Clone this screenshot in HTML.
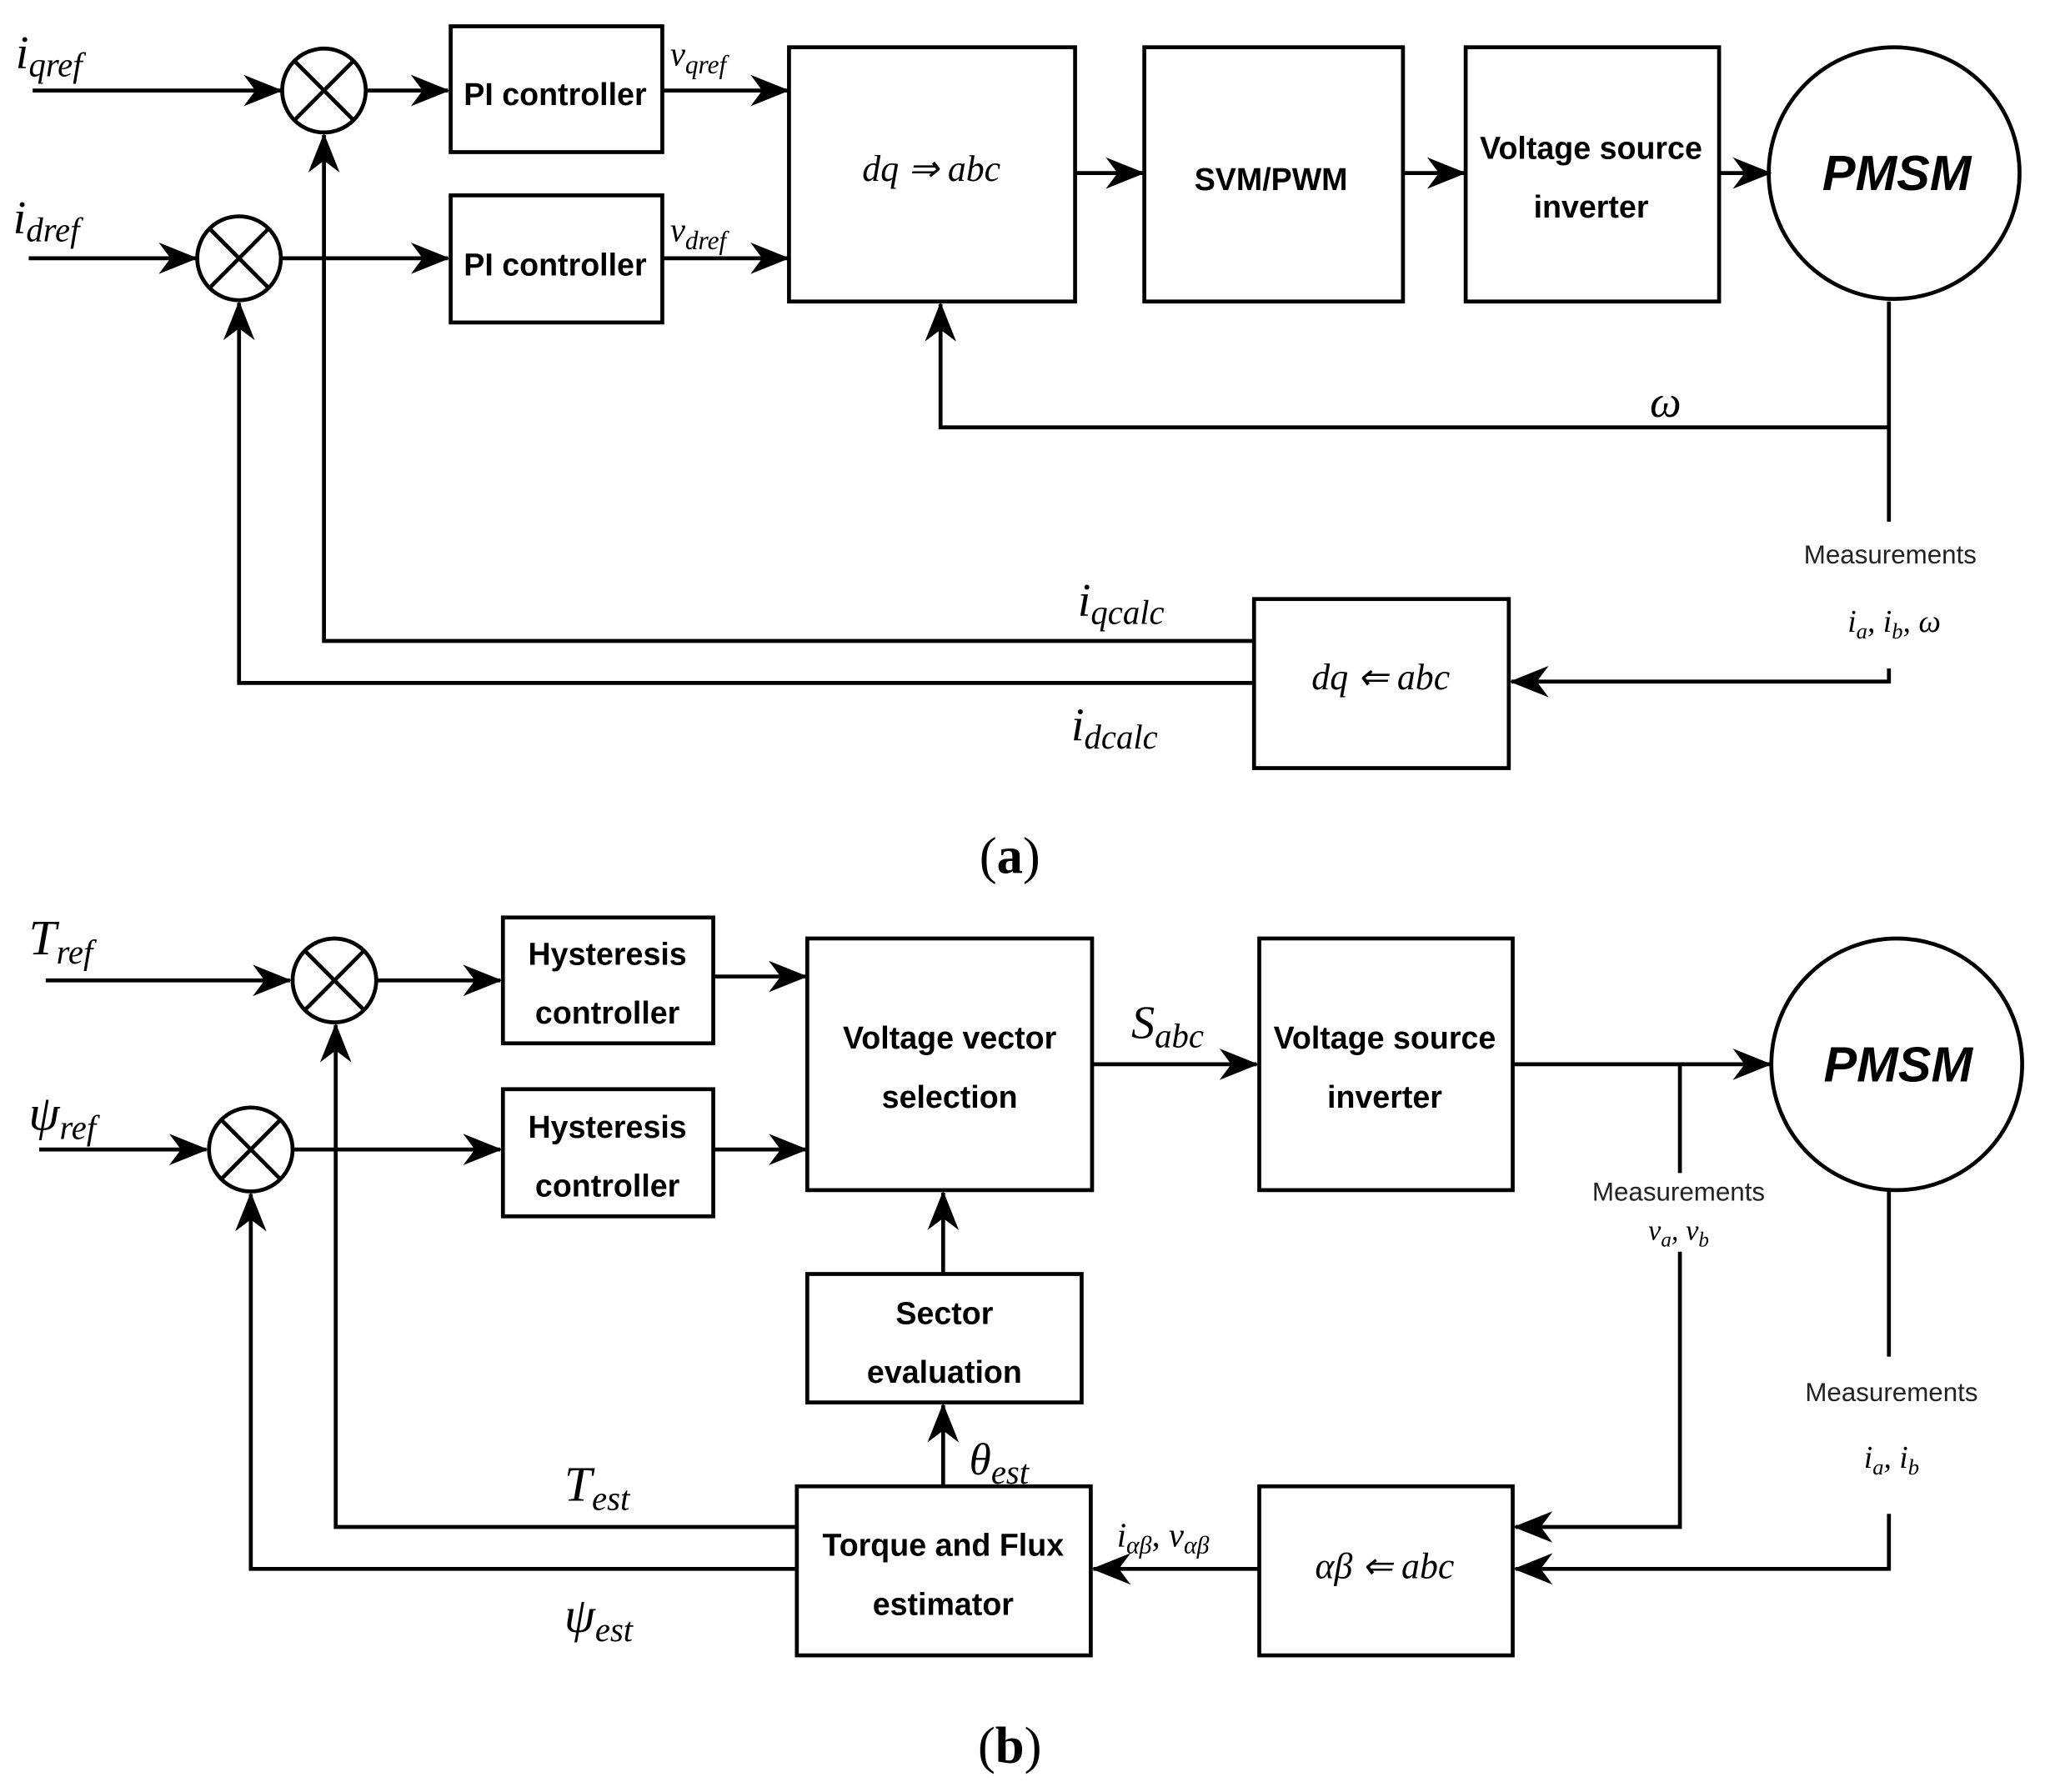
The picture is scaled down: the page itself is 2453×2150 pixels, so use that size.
<!DOCTYPE html>
<html><head><meta charset="utf-8"><style>body{margin:0;background:#fff}</style></head><body>
<svg width="2453" height="2145" viewBox="0 0 1560 1364" xmlns="http://www.w3.org/2000/svg">
<defs>
<marker id="m" viewBox="0 0 20 16" markerWidth="30" markerHeight="24" refX="19" refY="8" orient="auto" markerUnits="userSpaceOnUse"><path d="M0,0 L20,8 L0,16 L6,8 Z" fill="#000"/></marker></defs>
<g transform="scale(0.9965,1)">
<g stroke="#000" stroke-width="3" fill="none">
<!-- (a) -->
<line x1="25" y1="69" x2="215" y2="69" marker-end="url(#m)"/>
<circle cx="248" cy="69" r="32"/><path d="M225,46 L271,92 M271,46 L225,92"/>
<line x1="280" y1="69" x2="343" y2="69" marker-end="url(#m)"/>
<rect x="345" y="20" width="162" height="96"/>
<line x1="507" y1="69" x2="603" y2="69" marker-end="url(#m)"/>
<rect x="604" y="36" width="219" height="194"/>
<line x1="823" y1="132" x2="875" y2="132" marker-end="url(#m)"/>
<rect x="876" y="36" width="198" height="194"/>
<line x1="1074" y1="132" x2="1121" y2="132" marker-end="url(#m)"/>
<rect x="1122" y="36" width="194" height="194"/>
<line x1="1316" y1="132" x2="1355" y2="132" marker-end="url(#m)"/>
<circle cx="1450" cy="132" r="96"/>
<line x1="22" y1="197" x2="150" y2="197" marker-end="url(#m)"/>
<circle cx="183" cy="197" r="32"/><path d="M160,174 L206,220 M206,174 L160,220"/>
<line x1="215" y1="197" x2="343" y2="197" marker-end="url(#m)"/>
<rect x="345" y="149" width="162" height="97"/>
<line x1="507" y1="197" x2="603" y2="197" marker-end="url(#m)"/>
<polyline points="1446,230 1446,398"/>
<polyline points="1446,326 720,326 720,232" marker-end="url(#m)"/>
<polyline points="1446,510 1446,520 1157,520" marker-end="url(#m)"/>
<rect x="960" y="457" width="195" height="129"/>
<polyline points="960,489 248,489 248,103" marker-end="url(#m)"/>
<polyline points="960,521 183,521 183,231" marker-end="url(#m)"/>
<!-- (b) -->
<line x1="35" y1="748" x2="222" y2="748" marker-end="url(#m)"/>
<circle cx="256" cy="748" r="32"/><path d="M233,725 L279,771 M279,725 L233,771"/>
<line x1="288" y1="748" x2="383" y2="748" marker-end="url(#m)"/>
<rect x="385" y="700" width="161" height="96"/>
<line x1="30" y1="877" x2="158" y2="877" marker-end="url(#m)"/>
<circle cx="192" cy="877" r="32"/><path d="M169,854 L215,900 M215,854 L169,900"/>
<line x1="224" y1="877" x2="383" y2="877" marker-end="url(#m)"/>
<rect x="385" y="831" width="161" height="97"/>
<line x1="546" y1="745" x2="617" y2="745" marker-end="url(#m)"/>
<line x1="546" y1="877" x2="617" y2="877" marker-end="url(#m)"/>
<rect x="618" y="716" width="218" height="192"/>
<line x1="836" y1="812" x2="962" y2="812" marker-end="url(#m)"/>
<rect x="964" y="716" width="194" height="192"/>
<line x1="1158" y1="812" x2="1355" y2="812" marker-end="url(#m)"/>
<circle cx="1452" cy="812" r="96"/>
<line x1="1286" y1="812" x2="1286" y2="895"/>
<polyline points="1286,955 1286,1165 1160,1165" marker-end="url(#m)"/>
<line x1="1446" y1="908" x2="1446" y2="1035"/>
<polyline points="1446,1155 1446,1197 1160,1197" marker-end="url(#m)"/>
<rect x="964" y="1134" width="194" height="129"/>
<line x1="964" y1="1197" x2="837" y2="1197" marker-end="url(#m)"/>
<rect x="610" y="1134" width="225" height="129"/>
<line x1="722" y1="1134" x2="722" y2="1072" marker-end="url(#m)"/>
<rect x="618" y="972" width="210" height="98"/>
<line x1="722" y1="972" x2="722" y2="910" marker-end="url(#m)"/>
<polyline points="610,1165 257,1165 257,782" marker-end="url(#m)"/>
<polyline points="610,1197 192,1197 192,911" marker-end="url(#m)"/>
</g>
<g font-family="Liberation Sans, sans-serif" font-weight="bold" font-size="24" text-anchor="middle" fill="#000">
<text x="425" y="80">PI controller</text>
<text x="425" y="210">PI controller</text>
<text x="973" y="145">SVM/PWM</text>
<text x="1218" y="121">Voltage source</text>
<text x="1218" y="166">inverter</text>
<text x="1452" y="145" font-size="38" font-style="italic">PMSM</text>
<text x="465" y="736">Hysteresis</text><text x="465" y="781">controller</text>
<text x="465" y="868">Hysteresis</text><text x="465" y="913">controller</text>
<text x="727" y="800">Voltage vector</text><text x="727" y="845">selection</text>
<text x="1060" y="800">Voltage source</text><text x="1060" y="845">inverter</text>
<text x="1453" y="825" font-size="38" font-style="italic">PMSM</text>
<text x="723" y="1010">Sector</text><text x="723" y="1055">evaluation</text>
<text x="722" y="1187">Torque and Flux</text><text x="722" y="1232">estimator</text>
</g>
<g font-family="Liberation Sans, sans-serif" font-size="20" text-anchor="middle" fill="#222">
<text x="1447" y="430">Measurements</text>
<text x="1285" y="916">Measurements</text>
<text x="1448" y="1069">Measurements</text>
</g>
<g font-family="Liberation Serif, serif" font-style="italic" fill="#000">
<text x="12" y="52" font-size="36">i<tspan font-size="26" dy="6">qref</tspan></text>
<text x="10" y="178" font-size="36">i<tspan font-size="26" dy="6">dref</tspan></text>
<text x="513" y="50" font-size="26">v<tspan font-size="20" dy="6">qref</tspan></text>
<text x="513" y="184" font-size="26">v<tspan font-size="20" dy="6">dref</tspan></text>
<text x="713" y="138" font-size="28" text-anchor="middle">dq ⇒ abc</text>
<text x="1275" y="318" font-size="34" text-anchor="middle">ω</text>
<text x="1450" y="482" font-size="24" text-anchor="middle">i<tspan font-size="17" dy="5">a</tspan><tspan dy="-5">, i</tspan><tspan font-size="17" dy="5">b</tspan><tspan dy="-5">, ω</tspan></text>
<text x="1057" y="526" font-size="28" text-anchor="middle">dq ⇐ abc</text>
<text x="825" y="470" font-size="36">i<tspan font-size="26" dy="6">qcalc</tspan></text>
<text x="820" y="565" font-size="36">i<tspan font-size="26" dy="6">dcalc</tspan></text>
<text x="22" y="728" font-size="38">T<tspan font-size="26" dy="7">ref</tspan></text>
<text x="22" y="862" font-size="38">ψ<tspan font-size="26" dy="7">ref</tspan></text>
<text x="866" y="792" font-size="36">S<tspan font-size="26" dy="7">abc</tspan></text>
<text x="1285" y="946" font-size="22" text-anchor="middle">v<tspan font-size="16" dy="5">a</tspan><tspan dy="-5">, v</tspan><tspan font-size="16" dy="5">b</tspan></text>
<text x="1448" y="1120" font-size="24" text-anchor="middle">i<tspan font-size="17" dy="5">a</tspan><tspan dy="-5">, i</tspan><tspan font-size="17" dy="5">b</tspan></text>
<text x="1060" y="1204" font-size="28" text-anchor="middle">αβ ⇐ abc</text>
<text x="855" y="1180" font-size="26">i<tspan font-size="19" dy="5">αβ</tspan><tspan dy="-5">, v</tspan><tspan font-size="19" dy="5">αβ</tspan></text>
<text x="742" y="1125" font-size="34">θ<tspan font-size="26" dy="7">est</tspan></text>
<text x="432" y="1145" font-size="38">T<tspan font-size="26" dy="7">est</tspan></text>
<text x="432" y="1245" font-size="38">ψ<tspan font-size="26" dy="7">est</tspan></text>
</g>
<g font-family="Liberation Serif, serif" font-size="40" text-anchor="middle" fill="#000">
<text x="773" y="666">(<tspan font-weight="bold">a</tspan>)</text>
<text x="773" y="1345">(<tspan font-weight="bold">b</tspan>)</text>
</g>
</g>
</svg>
</body></html>
